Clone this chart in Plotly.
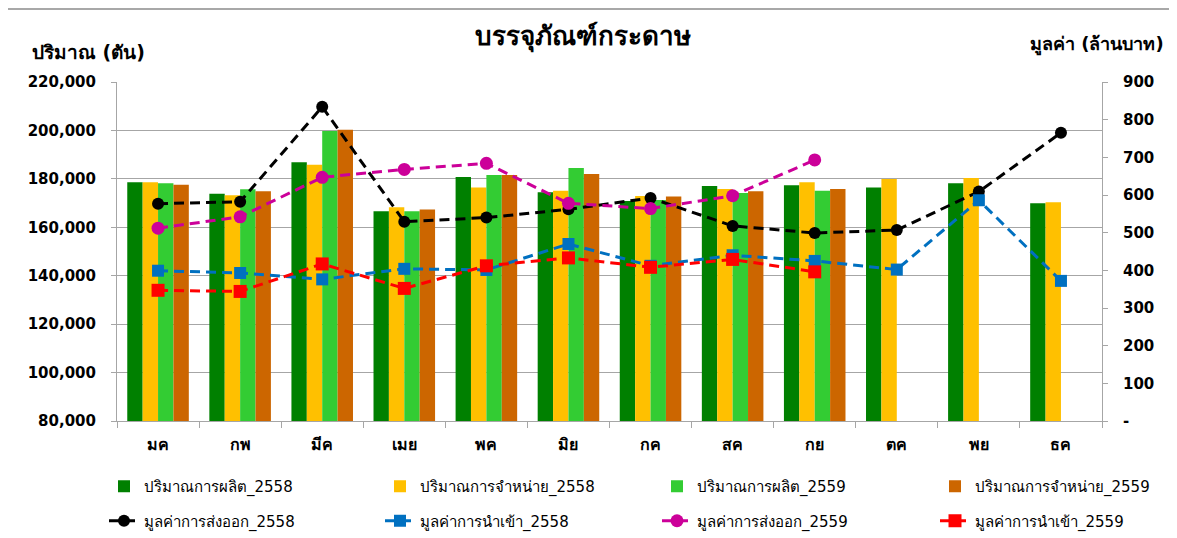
import plotly.graph_objects as go

months = ["มค", "กพ", "มีค", "เมย", "พค", "มิย", "กค", "สค", "กย", "ตค", "พย", "ธค"]

prod_2558 = [178600, 173800, 186900, 166600, 180800, 174500, 170900, 177100, 177400, 176400, 178200, 169900]
sales_2558 = [178600, 173200, 185800, 168300, 176400, 175100, 172900, 175800, 178600, 179900, 180400, 170300]
prod_2559 = [178200, 175700, 199800, 166600, 181600, 184500, 171300, 174200, 175100, None, None, None]
sales_2559 = [177600, 174900, 200300, 167300, 181600, 182000, 172700, 174900, 175800, None, None, None]

export_2558 = [577, 582, 834, 529, 540, 562, 592, 518, 499, 507, 609, 765]
import_2558 = [399, 393, 376, 404, 401, 470, 412, 440, 425, 402, 586, 372]
export_2559 = [512, 542, 647, 668, 684, 578, 564, 598, 693, None, None, None]
import_2559 = [347, 344, 417, 352, 412, 433, 408, 429, 396, None, None, None]

left_ticks = list(range(80000, 220001, 20000))
right_ticks = list(range(0, 901, 100))
right_ticktext = ["-"] + [str(v) for v in right_ticks[1:]]

FONT = "Tahoma, 'DejaVu Sans', 'Noto Sans', sans-serif"
W, H = 1177, 538
OFF = 8  # page body margin offset

fig = go.Figure()

bar_specs = [
    ("ปริมาณการผลิต_2558", prod_2558, "#008000", "legend"),
    ("ปริมาณการจำหน่าย_2558", sales_2558, "#FFC000", "legend2"),
    ("ปริมาณการผลิต_2559", prod_2559, "#33CC33", "legend3"),
    ("ปริมาณการจำหน่าย_2559", sales_2559, "#CC6600", "legend4"),
]
for i, (name, vals, col, lg) in enumerate(bar_specs):
    fig.add_trace(go.Bar(
        x=months, y=vals, name=name, marker=dict(color=col, line=dict(width=0)),
        legend=lg, legendgroup=f"b{i}", yaxis="y",
    ))

line_specs = [
    ("มูลค่าการส่งออก_2558", export_2558, "#000000", "circle", 12, "legend"),
    ("มูลค่าการนำเข้า_2558", import_2558, "#0070C0", "square", 12, "legend2"),
    ("มูลค่าการส่งออก_2559", export_2559, "#CC0099", "circle", 13, "legend3"),
    ("มูลค่าการนำเข้า_2559", import_2559, "#FF0000", "square", 13, "legend4"),
]
for i, (name, vals, col, sym, sz, lg) in enumerate(line_specs):
    fig.add_trace(go.Scatter(
        x=months, y=vals, name=name, mode="lines+markers", yaxis="y2",
        line=dict(color=col, width=3, dash="10px,6px"),
        marker=dict(color=col, symbol=sym, size=sz),
        legend=lg, legendgroup=f"l{i}", connectgaps=False,
    ))

# plot area in (screen) pixels, converted to figure pixels
L, R, T, B = 117 - OFF, 1102 - OFF, 82 - OFF, 421 - OFF
pw, ph = R - L, B - T

legend_common = dict(
    xref="container", yref="container", xanchor="left", yanchor="top",
    orientation="v", bgcolor="rgba(0,0,0,0)", tracegroupgap=12,
    font=dict(family=FONT, size=15, color="#000000"),
)
legend_x = [104, 380, 657, 935]
layout_legends = {}
for k, xp in enumerate(legend_x):
    key = "legend" if k == 0 else f"legend{k+1}"
    layout_legends[key] = dict(legend_common, x=(xp - OFF) / W, y=1 - (470 - OFF) / H)

fig.update_layout(
    width=W, height=H,
    margin=dict(l=L, r=W - R, t=T, b=H - B, autoexpand=False),
    paper_bgcolor="white", plot_bgcolor="white",
    barmode="group", bargap=0.25, bargroupgap=0,
    font=dict(family=FONT, size=15, color="#000000"),
    showlegend=True,
    xaxis=dict(
        type="category", range=[-0.5, len(months) - 0.5],
        showline=True, linecolor="#A6A6A6", linewidth=1,
        ticks="outside", tickson="boundaries", ticklen=6, tickcolor="#A6A6A6",
        tickfont=dict(family=FONT, size=16, color="#000000", weight="bold"),
        showgrid=False, ticklabelstandoff=9, automargin=False,
    ),
    yaxis=dict(
        range=[80000, 220000], tickvals=left_ticks, tickformat=",",
        showline=True, linecolor="#A6A6A6", linewidth=1,
        ticks="outside", ticklen=5, tickcolor="#A6A6A6",
        showgrid=True, gridcolor="#A6A6A6", gridwidth=1, zeroline=False,
        tickfont=dict(family=FONT, size=15, color="#000000", weight="bold"),
        ticklabelstandoff=12, automargin=False,
    ),
    yaxis2=dict(
        range=[0, 900], tickvals=right_ticks, ticktext=right_ticktext,
        overlaying="y", side="right",
        showline=True, linecolor="#A6A6A6", linewidth=1,
        ticks="outside", ticklen=5, tickcolor="#A6A6A6",
        showgrid=False, zeroline=False,
        tickfont=dict(family=FONT, size=15, color="#000000", weight="bold"),
        ticklabelstandoff=12, automargin=False,
    ),
    **layout_legends,
)

def px_x(x):
    return (x - OFF - L) / pw

def px_y(y):
    return 1 + (T - (y - OFF)) / ph

# titles as annotations
fig.add_annotation(text="<b>บรรจุภัณฑ์กระดาษ</b>", xref="paper", yref="paper",
                   x=px_x(583), y=px_y(37), showarrow=False,
                   font=dict(family=FONT, size=26, color="#000000"),
                   xanchor="center", yanchor="middle")
fig.add_annotation(text="<b>ปริมาณ (ตัน)</b>", xref="paper", yref="paper",
                   x=px_x(30), y=px_y(52), showarrow=False,
                   font=dict(family=FONT, size=19, color="#000000"),
                   xanchor="left", yanchor="middle")
fig.add_annotation(text="<b>มูลค่า (ล้านบาท)</b>", xref="paper", yref="paper",
                   x=px_x(1166), y=px_y(45), showarrow=False,
                   font=dict(family=FONT, size=18, color="#000000"),
                   xanchor="right", yanchor="middle")

# outer chart border
fig.add_shape(type="rect", xref="paper", yref="paper",
              x0=px_x(7), x1=px_x(1200),
              y0=px_y(560), y1=px_y(9),
              line=dict(color="#8C8C8C", width=1.5), fillcolor="rgba(0,0,0,0)", layer="below")

fig.write_html("out.html")
